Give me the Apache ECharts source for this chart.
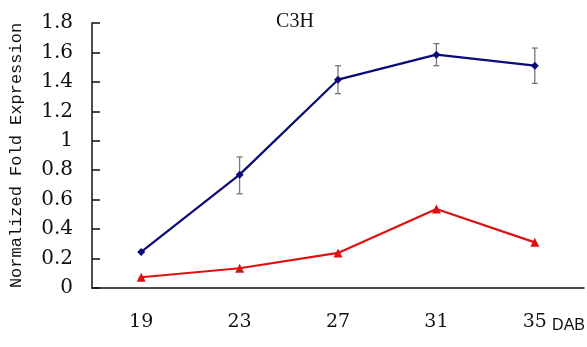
<!DOCTYPE html>
<html><head><meta charset="utf-8">
<script src="https://cdn.jsdelivr.net/npm/echarts@6/dist/echarts.min.js"></script>
<style>html,body{margin:0;padding:0;background:#fff}#c{width:587px;height:347px}</style>
</head><body><div id="c"></div>
<script>
const categories = ['19','23','27','31','35'];
const blueValues = [0.245, 0.77, 1.415, 1.585, 1.51];
const blueLow    = [0.245, 0.64, 1.32, 1.51, 1.39];
const blueHigh   = [0.245, 0.89, 1.51, 1.66, 1.63];
const redValues  = [0.073, 0.134, 0.238, 0.537, 0.31];
const yTicks = { min: 0, max: 1.8, interval: 0.2 };

const chart = echarts.init(document.getElementById('c'), null, {renderer:'canvas'});
const serif = '"Liberation Serif","DejaVu Serif",serif';
const numFont = '"DejaVu Serif",serif';
const errData = categories.map((c,i)=>[i, blueLow[i], blueHigh[i]]);
chart.setOption({
  animation:false,
  backgroundColor:'#fff',
  title:{text:'C3H', left:290, top:7, textAlign:'center',
    textStyle:{fontFamily:serif, fontSize:20, fontWeight:'normal', color:'#111'}},
  graphic:[{type:'text', right:2, top:318,
    style:{text:'DAB', font:'16px "Liberation Sans Narrow", "Liberation Sans", sans-serif', fill:'#111'}}],
  grid:{left:89, right:3, top:23, bottom:59},
  xAxis:{type:'category', data:categories, boundaryGap:true,
    axisLine:{lineStyle:{color:'#111', width:1.5}},
    axisTick:{inside:true, length:8, lineStyle:{color:'#111', width:1.5}},
    axisLabel:{fontFamily:numFont, fontSize:19, color:'#111', margin:25}},
  yAxis:{type:'value', min:yTicks.min, max:yTicks.max, interval:yTicks.interval,
    name:'Normalized Fold Expression', nameLocation:'middle', nameGap:67,
    nameTextStyle:{fontFamily:'"Liberation Mono","DejaVu Sans Mono",monospace', fontSize:17, color:'#111'},
    splitLine:{show:false},
    axisLine:{show:true, lineStyle:{color:'#111', width:1.5}},
    axisTick:{show:true, inside:true, length:8, lineStyle:{color:'#111', width:1.5}},
    axisLabel:{fontFamily:numFont, fontSize:20, color:'#111', margin:19}},
  series:[
    {type:'line', data:blueValues, symbol:'diamond', symbolSize:8,
      lineStyle:{color:'#0a0a78', width:2.2}, itemStyle:{color:'#0a0a78'}, z:3},
    {type:'line', data:redValues, symbol:'triangle', symbolSize:9,
      lineStyle:{color:'#e01010', width:2.2}, itemStyle:{color:'#e01010'}, z:3},
    {type:'custom', data:errData, z:2,
      renderItem:function(params, api){
        const x = api.value(0);
        const lo = api.coord([x, api.value(1)]);
        const hi = api.coord([x, api.value(2)]);
        const w = 3;
        const st = {stroke:'#777', lineWidth:1.3};
        return {type:'group', children:[
          {type:'line', shape:{x1:lo[0],y1:lo[1],x2:hi[0],y2:hi[1]}, style:st},
          {type:'line', shape:{x1:lo[0]-w,y1:lo[1],x2:lo[0]+w,y2:lo[1]}, style:st},
          {type:'line', shape:{x1:hi[0]-w,y1:hi[1],x2:hi[0]+w,y2:hi[1]}, style:st}
        ]};
      }}
  ]
});
</script></body></html>
